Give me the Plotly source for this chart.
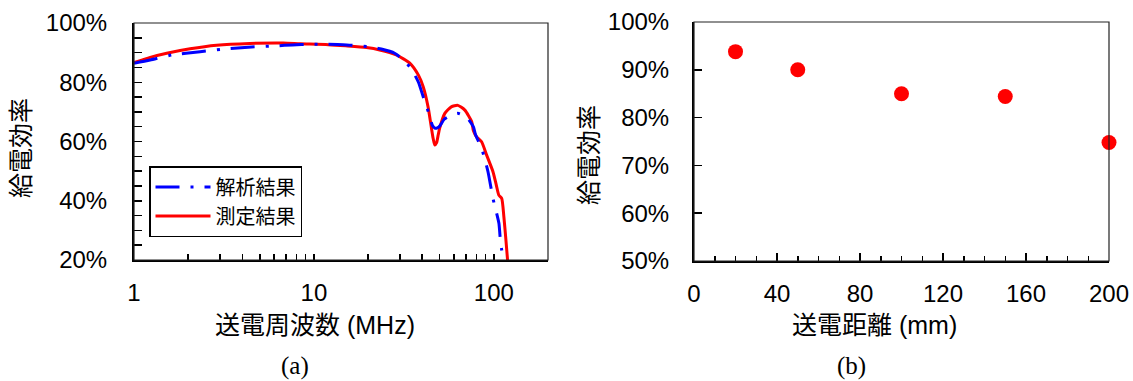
import plotly.graph_objects as go

# ---- data (a) ----
freq_meas = [1.0, 1.23, 1.52, 2.05, 2.88, 4.4, 6.75, 8.4, 12, 15, 19.6, 23.2, 28.7, 34.2, 38.1,
             40.5, 43.1, 45, 46, 47, 48, 49.1, 50, 53.4, 58, 63.1, 69, 75.3, 77, 80.1, 85.5,
             91.2, 98.9, 103.2, 106.6, 110.6, 113.7, 116.3, 119.2]
eff_meas = [86.6, 88.4, 89.8, 91.3, 92.5, 93.1, 93.25, 93.0, 92.7, 92.3, 91.7, 90.9, 89.2, 86.4, 82.4,
            78.5, 71.7, 64.5, 61.0, 58.8, 59.5, 62.3, 64.5, 69.5, 71.7, 72.2, 70.6, 66.7, 63.6, 61.6, 59.9,
            55.4, 49.8, 45.3, 41.9, 40.8, 34.6, 27.9, 20.0]
freq_sim = [1.0, 1.23, 1.62, 2.33, 3.16, 4.5, 6.2, 7.6, 9.5, 12, 14.5, 20, 23.7, 28.1, 31.4, 34.8,
            38.1, 40.5, 44.1, 45.5, 47, 48.5, 50, 53, 56.8, 63, 70.5, 76.9, 79.2, 85.5, 92.8, 95.8,
            98.9, 106.7, 108.3, 110.6, 113.8]
eff_sim = [86.4, 87.5, 89.2, 90.3, 91.2, 91.9, 92.3, 92.6, 92.8, 92.8, 92.7, 92.0, 91.2, 89.8, 87.5, 84.5,
           80.0, 75.1, 68.4, 65.5, 64.5, 64.6, 65.2, 67.5, 68.6, 69.5, 68.2, 65.0, 62.2, 57.7, 49.8, 45.3,
           40.8, 32.4, 27.9, 23.4, 20.0]
name_sim = "解析結果"
name_meas = "測定結果"

# ---- data (b) ----
distance_mm = [20, 50, 100, 150, 200]
eff_dist = [93.8, 90.0, 85.0, 84.4, 74.8]

# ---- ticks ----
xa_major = [1, 10, 100]
xa_minor = [2, 3, 4, 5, 6, 7, 8, 9, 20, 30, 40, 50, 60, 70, 80, 90]
ya_major = [20, 40, 60, 80, 100]
yb_major = [50, 60, 70, 80, 90, 100]
xb_major = [0, 40, 80, 120, 160, 200]

W, H = 1133, 381
def px(v):
    return v / W
def py(v):
    return 1 - v / H

LAT = "Liberation Sans, Arial, sans-serif"
CJK = "Liberation Sans, Noto Sans CJK JP, sans-serif"

fig = go.Figure()
fig.add_trace(go.Scatter(x=freq_meas, y=eff_meas, name=name_meas, mode="lines",
                         line=dict(color="#FF0000", width=3, shape="spline", smoothing=0.6),
                         xaxis="x", yaxis="y"))
fig.add_trace(go.Scatter(x=freq_sim, y=eff_sim, name=name_sim, mode="lines",
                         line=dict(color="#0000FF", width=3, shape="spline", smoothing=0.6,
                                   dash="24px,11px,3px,11px"),
                         xaxis="x", yaxis="y"))
fig.add_trace(go.Scatter(x=distance_mm, y=eff_dist, mode="markers", showlegend=False,
                         marker=dict(color="#FF0000", size=15), cliponaxis=False,
                         xaxis="x2", yaxis="y2"))

axis_common = dict(showgrid=False, zeroline=False, showline=True, linecolor="black", linewidth=2,
                   ticks="inside", tickcolor="black", tickwidth=1.5,
                   tickfont=dict(family=LAT, size=24, color="black"), automargin=False)

fig.update_layout(
    width=W, height=H, margin=dict(l=0, r=0, t=0, b=0),
    paper_bgcolor="white", plot_bgcolor="white",
    xaxis=dict(axis_common, type="log", domain=[px(134), px(548)], range=[0, 2.30103],
               tickvals=xa_major, ticktext=[str(v) for v in xa_major], ticklen=6,
               ticklabelstandoff=10,
               minor=dict(tickvals=xa_minor, ticks="inside", ticklen=6, tickcolor="black",
                          tickwidth=1.5, showgrid=False),
               anchor="y"),
    yaxis=dict(axis_common, domain=[py(260), py(23)], range=[20, 100],
               tickvals=ya_major, ticktext=[f"{v}%" for v in ya_major], ticklen=8,
               ticklabelstandoff=20,
               minor=dict(dtick=5, ticks="inside", ticklen=8, tickcolor="black",
                          tickwidth=1.5, showgrid=False),
               anchor="x"),
    xaxis2=dict(axis_common, domain=[px(694), px(1109)], range=[0, 200],
                tickvals=xb_major, ticktext=[str(v) for v in xb_major], ticklen=8,
                ticklabelstandoff=10,
                minor=dict(dtick=10, ticks="inside", ticklen=5, tickcolor="black",
                           tickwidth=1.5, showgrid=False),
                anchor="y2"),
    yaxis2=dict(axis_common, domain=[py(261), py(22)], range=[50, 100],
                tickvals=yb_major, ticktext=[f"{v}%" for v in yb_major], ticklen=8,
                ticklabelstandoff=18,
                anchor="x2"),
    showlegend=True,
    legend=dict(x=px(149), y=py(166), xanchor="left", yanchor="top",
                bgcolor="white", bordercolor="black", borderwidth=1.5,
                font=dict(family=CJK, size=20, color="black"),
                traceorder="reversed", itemwidth=55, tracegroupgap=0),
)

# thin frame on top/right
for xr, yr in (("x domain", "y domain"), ("x2 domain", "y2 domain")):
    fig.add_shape(type="rect", xref=xr, yref=yr, x0=0, x1=1, y0=0, y1=1,
                  line=dict(color="#222222", width=1.2), fillcolor="rgba(0,0,0,0)", layer="above")

ann = [
    dict(text="送電周波数 (MHz)", x=px(315), y=py(325), size=25, angle=0, fam=CJK),
    dict(text="送電距離 (mm)", x=px(874), y=py(325), size=25, angle=0, fam=CJK),
    dict(text="給電効率", x=px(21), y=py(148), size=25, angle=-90, fam=CJK),
    dict(text="給電効率", x=px(589), y=py(155), size=25, angle=-90, fam=CJK),
    dict(text="(a)", x=px(295), y=py(366), size=25, angle=0, fam="Liberation Serif, serif"),
    dict(text="(b)", x=px(852), y=py(366), size=25, angle=0, fam="Liberation Serif, serif"),
]
for a in ann:
    fig.add_annotation(text=a["text"], x=a["x"], y=a["y"], xref="paper", yref="paper",
                       xanchor="center", yanchor="middle", showarrow=False, textangle=a["angle"],
                       font=dict(family=a["fam"], size=a["size"], color="black"))

post = "document.body.style.margin='0';document.body.style.overflow='hidden';"
fig.write_html("out.html", config={"displayModeBar": False, "staticPlot": True}, post_script=post)
